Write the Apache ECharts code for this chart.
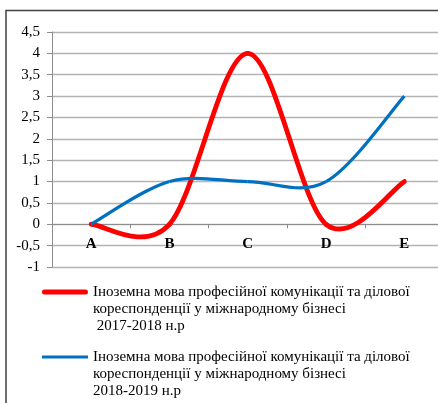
<!DOCTYPE html>
<html><head><meta charset="utf-8">
<script src="https://cdn.jsdelivr.net/npm/echarts@6/dist/echarts.min.js"></script>
<style>html,body{margin:0;padding:0;background:#fff;overflow:hidden}#c{width:446px;height:403px}</style>
</head><body><div id="c"></div>
<script>
const categories = ['A', 'B', 'C', 'D', 'E'];
const series2017 = [0, 0, 4, 0, 1];
const series2018 = [0, 1, 1, 1, 3];
const name2017 = 'Іноземна мова професійної комунікації та ділової\nкореспонденції у міжнародному бізнесі\n 2017-2018 н.р';
const name2018 = 'Іноземна мова професійної комунікації та ділової\nкореспонденції у міжнародному бізнесі\n2018-2019 н.р';
const yMin = -1, yMax = 4.5, yStep = 0.5;

const chart = echarts.init(document.getElementById('c'), null, {renderer: 'canvas'});
const serif = '"Liberation Serif", "Times New Roman", serif';
const iconRed = 'path://M0,0L46,0Z M0,51L46,51Z M2.5,6L43.5,6A2.5,2.5 0 0 1 43.5,11L2.5,11A2.5,2.5 0 0 1 2.5,6Z';
const iconBlue = 'path://M0,0L46,0Z M0,51L46,51Z M0,7L46,7L46,10L0,10Z';

// Smoothed (Catmull-Rom style, as in spreadsheet "smoothed line") segment renderer
function smoothRenderer(values, color, width, cap) {
  return function (params, api) {
    const i = params.dataIndex;
    const n = values.length;
    if (i >= n - 1) return null;
    const pt = j => { j = Math.max(0, Math.min(n - 1, j)); return api.coord([j, values[j]]); };
    const p0 = pt(i - 1), p1 = pt(i), p2 = pt(i + 1), p3 = pt(i + 2);
    return {
      type: 'bezierCurve',
      shape: {
        x1: p1[0], y1: p1[1], x2: p2[0], y2: p2[1],
        cpx1: p1[0] + (p2[0] - p0[0]) / 6, cpy1: p1[1] + (p2[1] - p0[1]) / 6,
        cpx2: p2[0] - (p3[0] - p1[0]) / 6, cpy2: p2[1] - (p3[1] - p1[1]) / 6
      },
      style: {stroke: color, lineWidth: width, fill: null, lineCap: cap, lineJoin: 'round'}
    };
  };
}

chart.setOption({
  backgroundColor: '#fff',
  animation: false,
  graphic: [{
    type: 'rect', shape: {x: 6, y: 10.5, width: 600, height: 600},
    style: {fill: 'none', stroke: '#404040', lineWidth: 1.5}, silent: true
  }],
  grid: {left: 52, top: 32, width: 391.5, height: 235},
  legend: {
    orient: 'vertical', left: 42, top: 283.5, itemGap: 14, padding: 0, height: 300,
    itemWidth: 46, itemHeight: 51,
    textStyle: {fontFamily: serif, fontSize: 15, color: '#000', lineHeight: 17},
    data: [
      {name: name2017, icon: iconRed},
      {name: name2018, icon: iconBlue}
    ]
  },
  xAxis: {
    type: 'category', data: categories,
    axisLine: {onZero: true, lineStyle: {color: '#8c8c8c', width: 1}},
    axisTick: {show: true, length: 4, lineStyle: {color: '#8c8c8c'}},
    axisLabel: {fontFamily: serif, fontSize: 15, fontWeight: 'bold', color: '#000', margin: -30}
  },
  yAxis: {
    type: 'value', min: yMin, max: yMax, interval: yStep,
    axisLine: {show: true, lineStyle: {color: '#8c8c8c'}},
    axisTick: {show: true, length: 5, lineStyle: {color: '#8c8c8c'}},
    splitLine: {lineStyle: {color: '#b3b3b3', width: 1.3}},
    axisLabel: {fontFamily: serif, fontSize: 15, color: '#000', margin: 12,
      formatter: v => String(v).replace('.', ',')}
  },
  series: [
    {name: name2017, type: 'custom', color: '#ff0000',
     data: series2017.map((v, i) => [i, v]), encode: {x: 0, y: 1},
     renderItem: smoothRenderer(series2017, '#ff0000', 4.8, 'round')},
    {name: name2018, type: 'custom', color: '#0070c0',
     data: series2018.map((v, i) => [i, v]), encode: {x: 0, y: 1},
     renderItem: smoothRenderer(series2018, '#0070c0', 3.2, 'butt')}
  ]
});
</script></body></html>
